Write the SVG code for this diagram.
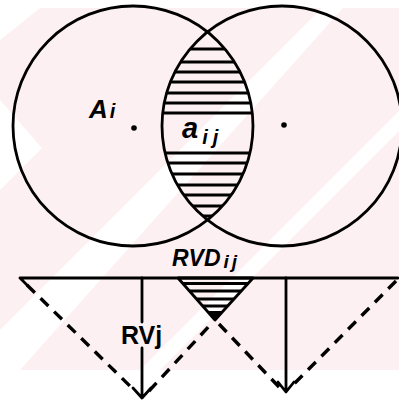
<svg xmlns="http://www.w3.org/2000/svg" width="399" height="405" viewBox="0 0 399 405">
  <defs>
    <style>
      .ln { stroke: #000; stroke-width: 2.8; fill: none; stroke-linecap: round; stroke-linejoin: round; }
      .hatch { stroke: #000; stroke-width: 3; fill: none; }
      .dash { stroke: #000; stroke-width: 3.4; fill: none; stroke-dasharray: 11 8; }
      .lbl { font-family: "Liberation Sans", Arial, sans-serif; font-weight: bold; fill: #000; }
      .bg { fill: #fdf0f3; }
      .band { fill: #ffffff; }
    </style>
    <clipPath id="lensClip">
      <path d="M207.5 32 A120 120 0 0 1 207.5 220 A120 120 0 0 1 207.5 32 Z"/>
    </clipPath>
  </defs>

  <g id="background">
    <rect width="399" height="405" fill="#ffffff"/>
    <polygon class="bg" points="0,40 40,8 399,8 399,370 0,370"/>
    <polygon class="band" points="0,100 42,148 0,190"/>
    <polygon class="band" points="0,330 330,0 350,0 20,370 0,370"/>
    <polygon class="band" points="140,370 399,111 399,131 160,370"/>
    <polygon class="band" points="0,40 40,8 0,8"/>
  </g>

  <g id="circle-left">
    <circle class="ln" cx="133" cy="126" r="120"/>
    <circle cx="134" cy="128" r="2.8" fill="#000"/>
  </g>

  <g id="circle-right">
    <circle class="ln" cx="282" cy="126" r="120"/>
    <circle cx="284" cy="125" r="2.8" fill="#000"/>
  </g>

  <g id="lens" clip-path="url(#lensClip)">
    <path class="hatch" d="M150 49H270M150 62H270M150 72H270M150 82H270M150 93H270M150 103H270M150 113H270M150 153H270M150 163H270M150 174H270M150 185H270M150 195H270M150 206H270M150 216H270"/>
  </g>

  <g id="labels">
    <text class="lbl" x="89" y="118" font-size="26" font-style="italic">A<tspan font-size="20" dx="2">i</tspan></text>
    <text class="lbl" x="182" y="138" font-size="29" font-style="italic">a<tspan font-size="20" dx="4" dy="6" letter-spacing="5">ij</tspan></text>
    <text class="lbl" x="172" y="266" font-size="23" font-style="italic">RVD<tspan font-size="19" dx="3" dy="2" letter-spacing="3">ij</tspan></text>
    <text class="lbl" x="121" y="344" font-size="25">RVj</text>
  </g>

  <g id="rvd-triangle">
    <polygon class="ln" points="178,278 253,278 215,320"/>
    <path class="hatch" d="M183 283.5H248.5M190 291H241M197 299H234M203 306H228"/>
    <polygon points="206,311 224,311 215,321" fill="#000"/>
  </g>

  <g id="connectors">
    <path class="ln" d="M20 278H398M20 278L27 285"/>
    <path class="dash" d="M27 285L134 390"/>
    <path class="dash" d="M149 391L212 323"/>
    <path class="dash" d="M219 324L280 388"/>
    <path class="dash" d="M396 281L292 386"/>
    <path class="ln" d="M142 278V322M142 348V397M133 388L142 398L151 388"/>
    <path class="ln" d="M286 278V391M278 382L286 392L294 382"/>
  </g>
</svg>
